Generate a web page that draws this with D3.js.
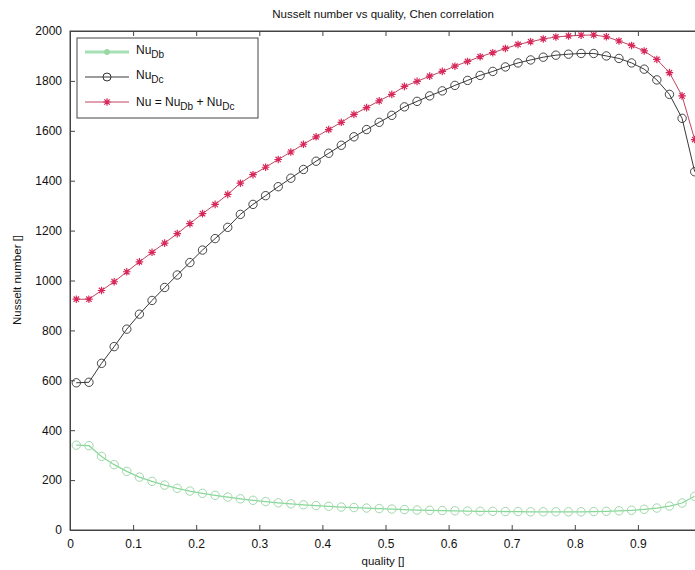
<!DOCTYPE html>
<html><head><meta charset="utf-8">
<script src="https://cdn.jsdelivr.net/npm/d3@7"></script>
<style>
body{margin:0;background:#fff;}
svg{display:block;font-family:"Liberation Sans",Arial,Helvetica,sans-serif;}
</style></head>
<body><svg id="c" width="695" height="570"></svg>
<script>
const quality = [0.01,0.03,0.05,0.07,0.09,0.11,0.13,0.15,0.17,0.19,0.21,0.23,0.25,0.27,0.29,0.31,0.33,0.35,0.37,0.39,0.41,0.43,0.45,0.47,0.49,0.51,0.53,0.55,0.57,0.59,0.61,0.63,0.65,0.67,0.69,0.71,0.73,0.75,0.77,0.79,0.81,0.83,0.85,0.87,0.89,0.91,0.93,0.95,0.97,0.99];
const nuDb = [340,338,295,262,235,212,195,180,167,156,147,139,132,125,119,114,109,105,101,98,95,92,90,88,86,84,82,80,79,78,77,76,75,75,74,74,73,73,73,73,73,74,75,77,79,83,88,96,108,135];
const nuDc = [590,592,668,735,805,865,920,972,1022,1072,1122,1168,1213,1265,1305,1340,1376,1410,1445,1478,1510,1542,1576,1605,1634,1662,1696,1718,1740,1760,1782,1802,1822,1838,1856,1872,1884,1895,1903,1907,1910,1910,1900,1890,1872,1847,1804,1746,1650,1436];
const nuTot = [925,925,960,995,1035,1075,1113,1150,1188,1228,1268,1305,1345,1390,1424,1454,1485,1515,1546,1576,1605,1634,1666,1693,1720,1746,1778,1798,1819,1838,1859,1878,1897,1913,1930,1946,1957,1968,1976,1980,1983,1984,1977,1960,1942,1920,1886,1833,1740,1565];
const xTicks = [0,0.1,0.2,0.3,0.4,0.5,0.6,0.7,0.8,0.9];
const yTicks = [0,200,400,600,800,1000,1200,1400,1600,1800,2000];
const title = "Nusselt number vs quality, Chen correlation";
const xLabel = "quality []";
const yLabel = "Nusselt number []";

const svg = d3.select("#c");
const L=70, T=31, R=701, B=530;
const x = d3.scaleLinear().domain([0,1]).range([L,R]);
const y = d3.scaleLinear().domain([0,2000]).range([B,T]);
const axisCol = "#444";

svg.append("rect").attr("x",L).attr("y",T).attr("width",R-L).attr("height",B-T)
  .attr("fill","none").attr("stroke",axisCol).attr("stroke-width",1);

const fmtX = d => String(d);
const gx = svg.append("g").attr("transform",`translate(0,${B})`)
  .call(d3.axisBottom(x).tickValues(xTicks).tickSizeInner(-5).tickSizeOuter(0).tickPadding(9).tickFormat(fmtX));
const gxt = svg.append("g").attr("transform",`translate(0,${T})`)
  .call(d3.axisTop(x).tickValues(xTicks).tickSizeInner(-5).tickSizeOuter(0).tickFormat(""));
const gy = svg.append("g").attr("transform",`translate(${L},0)`)
  .call(d3.axisLeft(y).tickValues(yTicks).tickSizeInner(-5).tickSizeOuter(0).tickPadding(8).tickFormat(d=>String(d)));
[gx,gxt,gy].forEach(g=>{
  g.select(".domain").attr("stroke",axisCol);
  g.selectAll(".tick line").attr("stroke",axisCol);
  g.selectAll("text").attr("fill","#111").attr("font-size",12).attr("font-family","Liberation Sans, Arial, sans-serif");
});

svg.append("text").attr("x",383).attr("y",18).attr("text-anchor","middle").attr("font-size",11.5).attr("fill","#111").text(title);
svg.append("text").attr("x",383).attr("y",565).attr("text-anchor","middle").attr("font-size",11.5).attr("fill","#111").text(xLabel);
svg.append("text").attr("transform","translate(21,280) rotate(-90)").attr("text-anchor","middle").attr("font-size",11.5).attr("fill","#111").text(yLabel);

svg.append("defs").append("clipPath").attr("id","pc").append("rect").attr("x",L).attr("y",T-6).attr("width",R-L+10).attr("height",B-T+12);
const plot = svg.append("g").attr("clip-path","url(#pc)");

const greenC = "#86d898", blackC = "#222", redLine = "#b8304e", redMk = "#d8285a";

function series(vals, lineCol, lw){
  const pts = quality.map((q,i)=>[x(q),y(vals[i])]);
  plot.append("path").attr("d",d3.line()(pts)).attr("fill","none").attr("stroke",lineCol).attr("stroke-width",lw);
  return pts;
}
function circles(pts,col,sw){
  plot.append("g").selectAll("circle").data(pts).join("circle")
    .attr("cx",d=>d[0]).attr("cy",d=>d[1]).attr("r",4.2)
    .attr("fill","none").attr("stroke",col).attr("stroke-width",sw);
}
function stars(g,pts,col){
  const s=3.8, d=2.7;
  g.append("g").selectAll("path").data(pts).join("path")
    .attr("d",p=>`M${p[0]-s},${p[1]}H${p[0]+s}M${p[0]},${p[1]-s}V${p[1]+s}M${p[0]-d},${p[1]-d}L${p[0]+d},${p[1]+d}M${p[0]-d},${p[1]+d}L${p[0]+d},${p[1]-d}`)
    .attr("stroke",col).attr("stroke-width",1.2).attr("fill","none");
}

const pG = series(nuDb, greenC, 1.2); circles(pG, "#a0d8aa", 1);
const pB = series(nuDc, blackC, 0.9); circles(pB, "#333", 0.9);
const pR = series(nuTot, redLine, 0.9); stars(plot, pR, redMk);

const lg = svg.append("g");
lg.append("rect").attr("x",77).attr("y",38).attr("width",181).attr("height",80).attr("fill","#fff").attr("stroke",axisCol).attr("stroke-width",1);
const rows = [
  {y:52, col:"#a6e0b4", w:3, mk:"g"},
  {y:77, col:blackC, w:0.9, mk:"c"},
  {y:102, col:redLine, w:0.9, mk:"s"}
];
rows.forEach(r=>{
  lg.append("line").attr("x1",85).attr("x2",129).attr("y1",r.y).attr("y2",r.y).attr("stroke",r.col).attr("stroke-width",r.w);
  if(r.mk==="c") lg.append("circle").attr("cx",107).attr("cy",r.y).attr("r",4).attr("fill","none").attr("stroke","#333");
  if(r.mk==="g") lg.append("circle").attr("cx",107).attr("cy",r.y).attr("r",2.5).attr("fill","#9ad7a5").attr("stroke","#9ad7a5");
  if(r.mk==="s") stars(lg,[[107,r.y]],redMk);
});
function nuText(xx, yy, parts){
  const te = lg.append("text").attr("x",xx).attr("y",yy).attr("font-size",12).attr("fill","#111");
  parts.forEach(p=>{
    const ts = te.append("tspan").text(p[0]);
    if(p[1]==="sub") ts.attr("font-size",10).attr("dy",4);
    if(p[1]==="up") ts.attr("dy",-4);
  });
}
nuText(136,54,[["Nu"],["Db","sub"]]);
nuText(136,79,[["Nu"],["Dc","sub"]]);
nuText(136,106,[["Nu = Nu"],["Db","sub"],[" + Nu","up"],["Dc","sub"]]);
</script></body></html>
